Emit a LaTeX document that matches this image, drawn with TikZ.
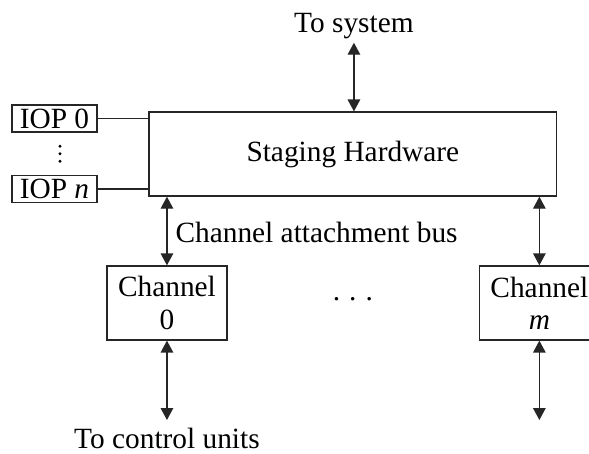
\documentclass[tikz,border=0pt]{standalone}
\usepackage{fontspec}
\setmainfont{Liberation Serif}
\usetikzlibrary{arrows.meta}

\begin{document}
\begin{tikzpicture}[font=\fontsize{10.3}{11.3}\selectfont,
	box/.style={draw=black!85, line width=0.45pt, inner sep=0pt, align=center},
	lbl/.style={inner sep=0pt},
	wire/.style={draw=black!85, line width=0.45pt},
	bus/.style={wire, {Triangle[length=4.2pt,width=4.4pt]}-{Triangle[length=4.2pt,width=4.4pt]}}]
	\clip (0,0) rectangle (7.264,5.587);
	% staging hardware and the IOPs on its left
	\node[box, minimum width=5.031cm, minimum height=1.036cm] (stage) at (4.352,3.687) {Staging Hardware};
	\node[box, minimum width=1.048cm, minimum height=0.333cm] (iop0) at (0.672,4.124) {IOP 0};
	\node[box, minimum width=1.048cm, minimum height=0.333cm] (iopn) at (0.672,3.255) {IOP \textit{n}};
	\coordinate (vd) at (0.74,3.69);
	\foreach \dy in {-0.092,0,0.092}
		\fill ([yshift=\dy cm]vd) circle (0.02);
	\draw[wire] (iop0.east) -- (iop0.east -| stage.west);
	\draw[wire] (iopn.east) -- (iopn.east -| stage.west);
	% system side
	\node[lbl, anchor=base] (sys) at (4.365,5.191) {To system};
	\draw[bus] (stage.north -| sys.south) -- ([yshift=-1.3pt]sys.south);
	% channels
	\node[box, minimum width=1.48cm, minimum height=0.913cm] (ch0) at (2.059,1.85) {Channel\\0};
	\node[box, minimum width=1.48cm, minimum height=0.913cm] (chm) at (6.652,1.85) {Channel\\\textit{m}};
	\node[lbl, anchor=base] (dots) at (4.352,1.886) {.\hspace{0.31em}.\hspace{0.31em}.};
	\node[lbl, anchor=base west] (cab) at (2.158,2.602) {Channel attachment bus};
	\draw[bus] (stage.south -| ch0.north) -- (ch0.north);
	\draw[bus] (stage.south -| chm.north) -- (chm.north);
	% control unit side
	\node[lbl, anchor=base] (ctl) at (2.059,0.05) {To control units};
	\coordinate (ctl0) at (2.059,0.407);
	\coordinate (ctlm) at (6.652,0.407);
	\draw[bus] (ch0.south) -- (ctl0);
	\draw[bus] (chm.south) -- (ctlm);
\end{tikzpicture}
\end{document}
